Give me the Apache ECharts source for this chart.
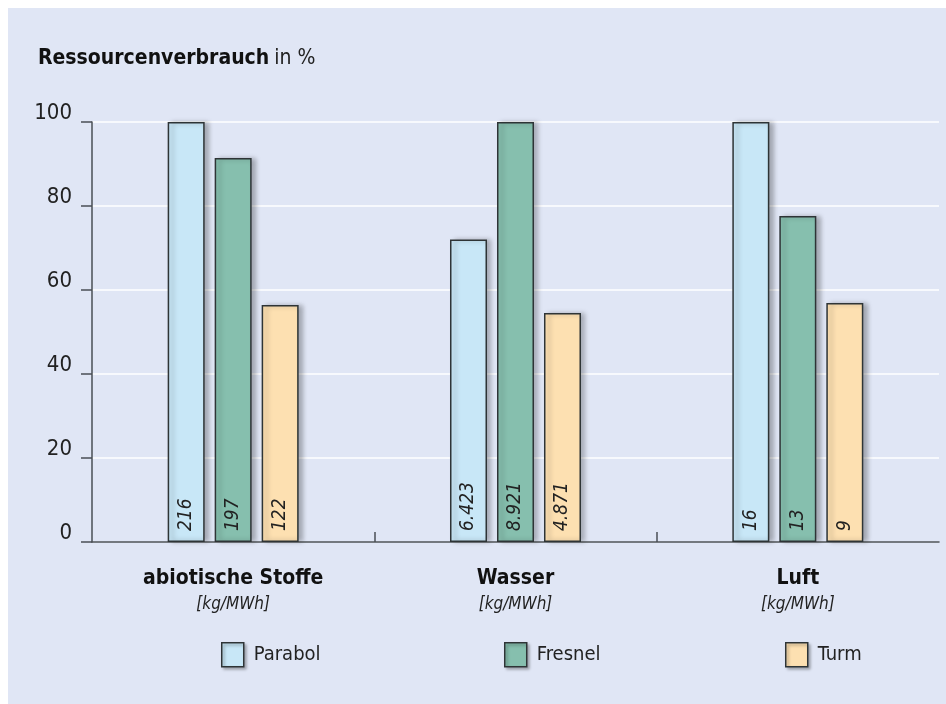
<!DOCTYPE html>
<html>
<head>
<meta charset="utf-8">
<script src="https://cdn.jsdelivr.net/npm/echarts@6/dist/echarts.min.js"></script>
<style>
  html, body { margin: 0; padding: 0; background: #ffffff; }
  #wrap { position: relative; width: 946px; height: 704px; background: #ffffff; }
  #chart { position: absolute; left: 8px; top: 8px; width: 938px; height: 696px; background: #e0e6f5; }
</style>
</head>
<body>
<div id="wrap"><div id="chart"></div></div>
<script>
const categories = ['abiotische Stoffe', 'Wasser', 'Luft'];
const units = ['[kg/MWh]', '[kg/MWh]', '[kg/MWh]'];
const seriesNames = ['Parabol', 'Fresnel', 'Turm'];
const parabol = [100, 72, 100];
const fresnel = [91.4, 100, 77.6];
const turm = [56.4, 54.5, 56.9];
const parabolLabels = ['216', '6.423', '16'];
const fresnelLabels = ['197', '8.921', '13'];
const turmLabels = ['122', '4.871', '9'];
const yTicks = [0, 20, 40, 60, 80, 100];
const categoryBoundaries = [1, 2];

const FONT = "'Liberation Sans Narrow', 'DejaVu Sans Condensed', 'Noto Sans', sans-serif";
const colors = ['#c8e7f7', '#86bfae', '#fde0b1'];
const valueSets = [parabol, fresnel, turm];
const labelSets = [parabolLabels, fresnelLabels, turmLabels];

const chart = echarts.init(document.getElementById('chart'));

const series = seriesNames.map((name, i) => ({
  name: name,
  type: 'bar',
  xAxisIndex: 0,
  data: valueSets[i],
  barWidth: 37,
  barGap: '27%',
  itemStyle: {
    color: colors[i],
    borderColor: '#2e3436',
    borderWidth: 1.5,
    shadowColor: 'rgba(0,0,0,0.28)',
    shadowBlur: 5,
    shadowOffsetX: 4,
    shadowOffsetY: 0
  },
  label: {
    show: true,
    position: 'insideBottom',
    rotate: 90,
    distance: 11,
    align: 'left',
    verticalAlign: 'middle',
    fontFamily: FONT,
    fontStyle: 'italic',
    fontSize: 19,
    color: '#222',
    formatter: (p) => labelSets[i][p.dataIndex]
  },
  emphasis: { disabled: true },
  silent: true
}));

const legendPos = [213, 496, 777];
const legends = seriesNames.map((name, i) => ({
  data: [name],
  left: legendPos[i],
  top: 634,
  padding: 0,
  itemWidth: 22,
  itemHeight: 24,
  itemGap: 6,
  icon: 'rect',
  selectedMode: false,
  itemStyle: {
    color: colors[i],
    borderColor: '#2e3436',
    borderWidth: 1.5,
    shadowColor: 'rgba(0,0,0,0.3)',
    shadowBlur: 3,
    shadowOffsetX: 2,
    shadowOffsetY: 2
  },
  textStyle: { fontFamily: FONT, fontSize: 20, color: '#222', padding: [0, 0, 0, 5] }
}));

chart.setOption({
  animation: false,
  backgroundColor: 'transparent',
  title: {
    text: '{b|Ressourcenverbrauch} {n|in %}',
    left: 30,
    top: 40,
    padding: 0,
    textStyle: {
      rich: {
        b: { fontFamily: FONT, fontWeight: 'bold', fontSize: 21, color: '#111' },
        n: { fontFamily: FONT, fontWeight: 'normal', fontSize: 21, color: '#222' }
      }
    }
  },
  legend: legends,
  grid: { left: 84, right: 7, top: 114, bottom: 162, containLabel: false },
  xAxis: [
    {
      type: 'category',
      data: categories,
      position: 'bottom',
      axisLine: { show: true, lineStyle: { color: '#4a4f55', width: 1.5 } },
      axisTick: { show: false },
      axisLabel: {
        margin: 23,
        interval: 0,
        formatter: (v, idx) => '{b|' + v + '}\n{u|' + units[idx] + '}',
        rich: {
          b: { fontFamily: FONT, fontWeight: 'bold', fontSize: 21, color: '#111', lineHeight: 28 },
          u: { fontFamily: FONT, fontStyle: 'italic', fontSize: 17, color: '#222', lineHeight: 24 }
        }
      },
      splitLine: { show: false }
    },
    {
      type: 'value',
      min: 0,
      max: categories.length,
      position: 'bottom',
      axisLine: { show: false },
      axisTick: {
        show: true,
        inside: true,
        length: 10,
        customValues: categoryBoundaries,
        lineStyle: { color: '#4a4f55', width: 1.5 }
      },
      axisLabel: { show: false },
      splitLine: { show: false }
    }
  ],
  yAxis: {
    type: 'value',
    min: 0,
    max: 100,
    interval: 20,
    axisLine: { show: true, lineStyle: { color: '#4a4f55', width: 1.5 } },
    axisTick: { show: true, length: 11, lineStyle: { color: '#4a4f55', width: 1.5 } },
    axisLabel: {
      margin: 20,
      fontFamily: FONT,
      fontSize: 22,
      color: '#222',
      verticalAlign: 'bottom',
      lineHeight: 22,
      padding: [0, 0, -2, 0],
      formatter: (v) => (yTicks.indexOf(v) >= 0 ? String(v) : '')
    },
    splitLine: { show: true, lineStyle: { color: '#ffffff', width: 1.5 } }
  },
  series: series
});
</script>
</body>
</html>
